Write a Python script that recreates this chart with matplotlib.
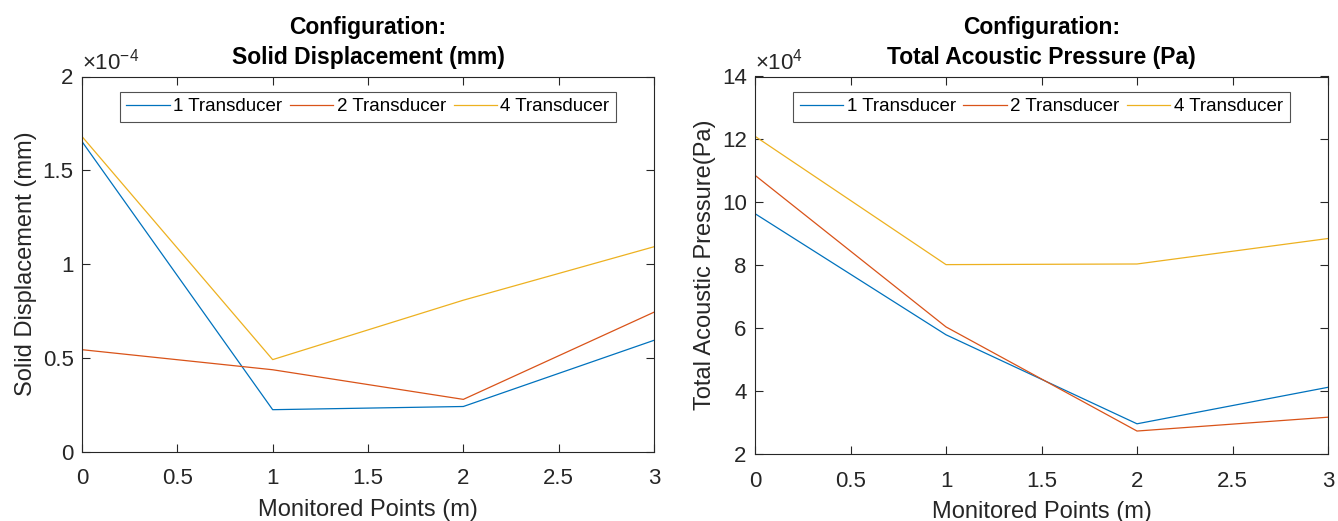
import matplotlib.pyplot as plt
from matplotlib.ticker import FuncFormatter, MultipleLocator

plt.rcParams['font.family'] = ['Liberation Sans', 'DejaVu Sans']
plt.rcParams['mathtext.fontset'] = 'custom'
plt.rcParams['mathtext.rm'] = 'Liberation Sans'

# monitored points
x = [0, 1, 2, 3]
labels = ["1 Transducer", "2 Transducer", "4 Transducer"]
colors = ["#0072BD", "#D95319", "#EDB120"]

# solid displacement (mm)
disp_1 = [1.653e-4, 0.223e-4, 0.240e-4, 0.593e-4]
disp_2 = [0.543e-4, 0.436e-4, 0.278e-4, 0.743e-4]
disp_4 = [1.680e-4, 0.490e-4, 0.807e-4, 1.092e-4]

# total acoustic pressure (Pa)
pres_1 = [9.64e4, 5.79e4, 2.96e4, 4.12e4]
pres_2 = [10.86e4, 6.04e4, 2.73e4, 3.17e4]
pres_4 = [12.10e4, 8.02e4, 8.04e4, 8.85e4]

fig = plt.figure(figsize=(13.38, 5.21), dpi=100)
ax1 = fig.add_axes([82/1338, 69.5/521, 572/1338, 375/521])
ax2 = fig.add_axes([755/1338, 67/521, 573/1338, 377.5/521])

gray = "#262626"

def style(ax, scale, expo, ylim, ystep, title, ylabel):
    ax.set_xlim(0, 3)
    ax.set_ylim(*ylim)
    ax.xaxis.set_major_locator(MultipleLocator(0.5))
    ax.yaxis.set_major_locator(MultipleLocator(ystep))
    ax.xaxis.set_major_formatter(FuncFormatter(lambda v, p: f"{v:g}"))
    ax.yaxis.set_major_formatter(FuncFormatter(lambda v, p: f"{v / scale:g}"))
    ax.tick_params(direction='in', top=True, right=True, length=6, width=0.8,
                   labelsize=16, colors=gray, pad=6)
    ax.tick_params(axis='x', pad=12)
    for s in ax.spines.values():
        s.set_color(gray)
        s.set_linewidth(0.8)
    ax.set_title("Configuration:\n" + title, fontsize=16.5, fontweight='bold',
                 color='black', pad=9, linespacing=1.4)
    ax.set_xlabel("Monitored Points (m)", fontsize=17, color=gray, labelpad=7)
    ax.set_ylabel(ylabel, fontsize=17, color=gray, labelpad=4)
    ax.text(0.0, 1.006, "$\\times10^{%d}$" % expo, transform=ax.transAxes,
            fontsize=16, color=gray, ha='left', va='bottom')
    leg = ax.legend(loc='upper center', bbox_to_anchor=(0.5, 0.985), ncol=3,
                    fontsize=13.5, frameon=True, fancybox=False, handlelength=2.3,
                    handletextpad=0.2, columnspacing=0.4, borderpad=0.35)
    leg.get_frame().set_edgecolor(gray)
    leg.get_frame().set_linewidth(0.8)

for ys, lab, c in zip([disp_1, disp_2, disp_4], labels, colors):
    ax1.plot(x, ys, color=c, lw=0.9, label=lab)
style(ax1, 1e-4, -4, (0, 2e-4), 0.5e-4, "Solid Displacement (mm)", "Solid Displacement (mm)")

for ys, lab, c in zip([pres_1, pres_2, pres_4], labels, colors):
    ax2.plot(x, ys, color=c, lw=0.9, label=lab)
style(ax2, 1e4, 4, (2e4, 14e4), 2e4, "Total Acoustic Pressure (Pa)", "Total Acoustic Pressure(Pa)")

fig.savefig("out.png", dpi=100)
